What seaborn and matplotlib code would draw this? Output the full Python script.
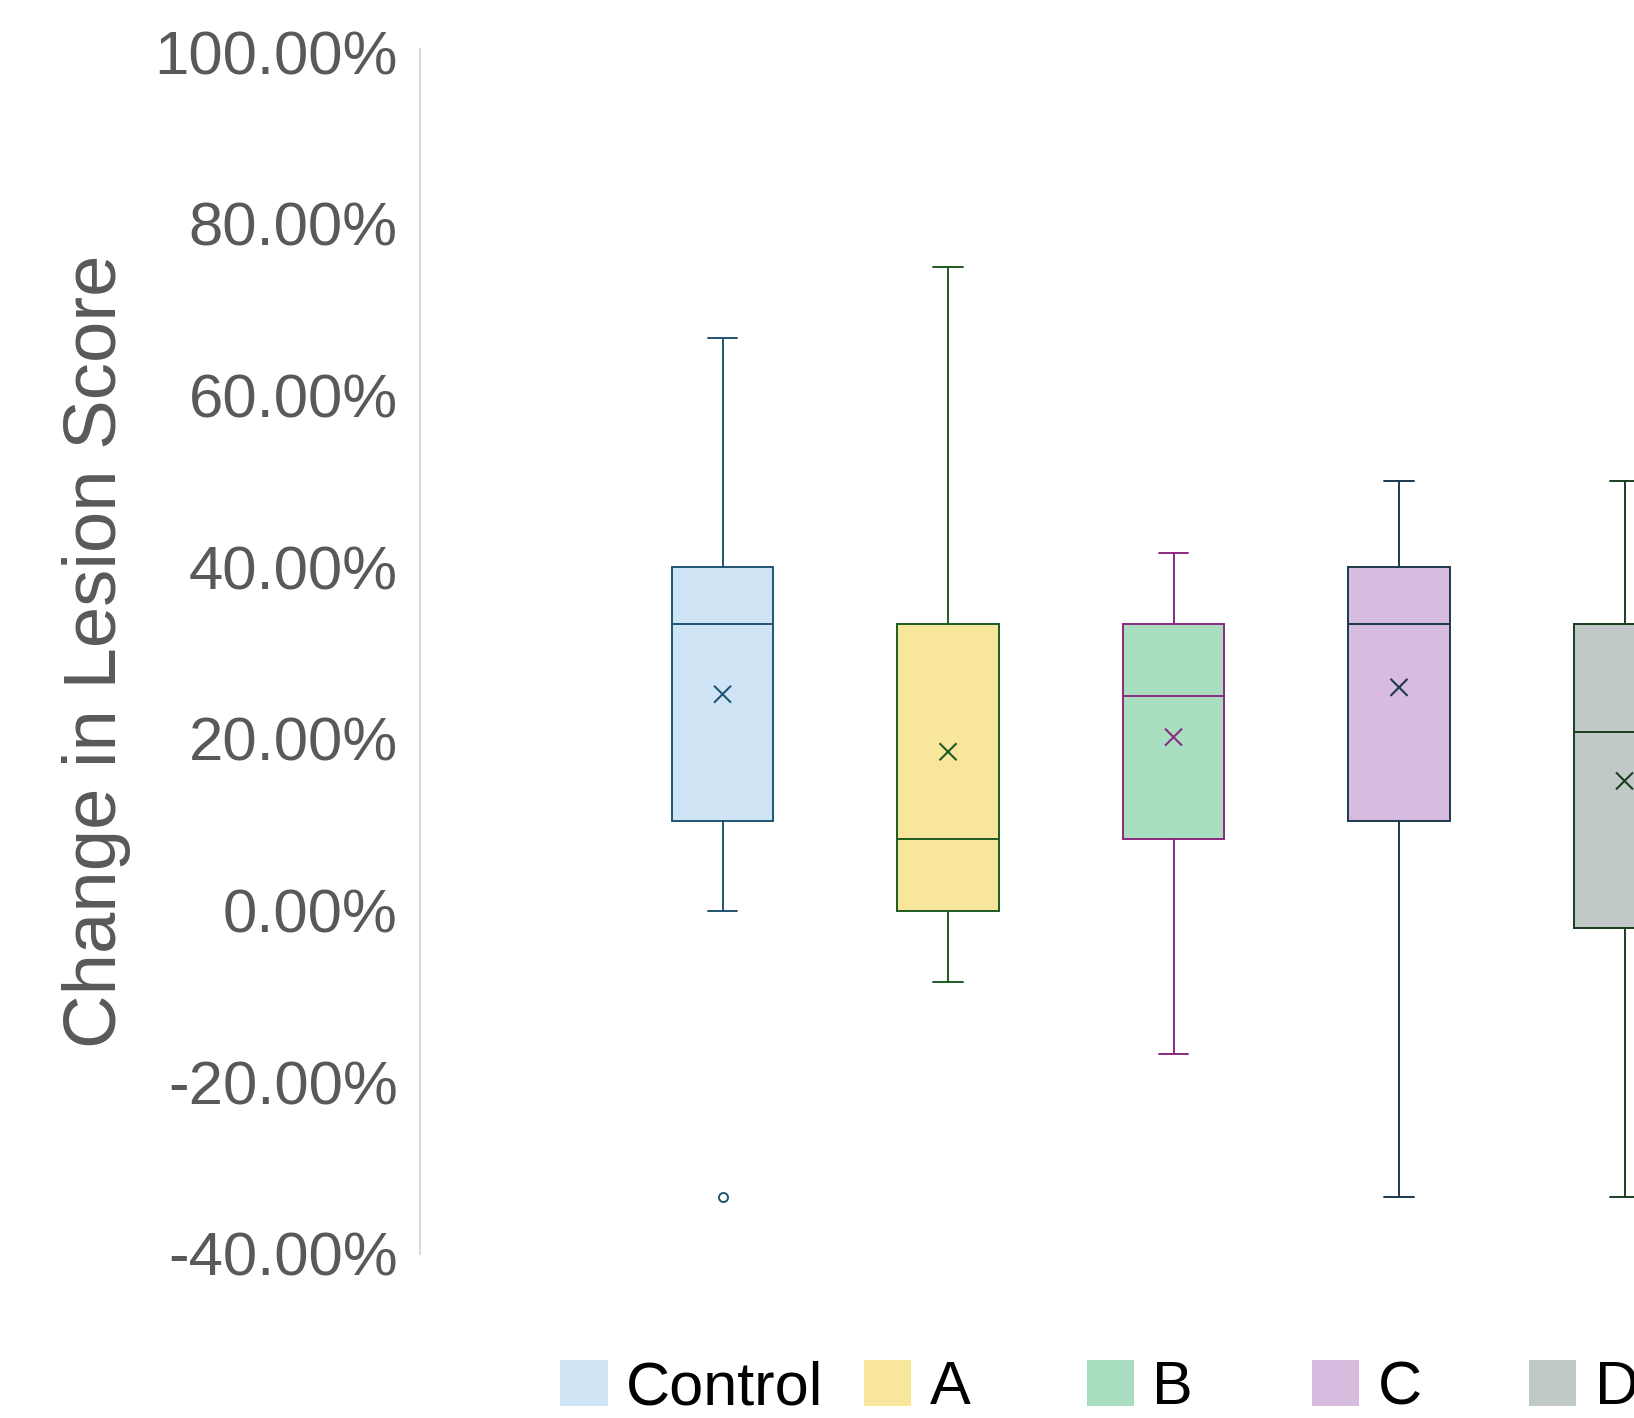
import matplotlib
matplotlib.use("Agg")
import matplotlib.pyplot as plt
import matplotlib.patches as mpatches
from matplotlib.ticker import PercentFormatter
import seaborn as sns

# values, in percent
groups = ["Control", "A", "B", "C", "D"]
whislo = [0.0, -8.33, -16.67, -33.33, -33.33]
q1 = [10.42, 0.0, 8.33, 10.42, -2.08]
med = [33.33, 8.33, 25.0, 33.33, 20.83]
q3 = [40.0, 33.33, 33.33, 40.0, 33.33]
whishi = [66.67, 75.0, 41.67, 50.0, 50.0]
means = [25.2, 18.5, 20.2, 26.0, 15.1]
outliers = [[-33.33], [], [], [], []]

fills = ["#CFE5F5", "#F8E69C", "#A9DFC0", "#D7BCE0", "#C0C8C8"]
edges = ["#1F5573", "#1E5B22", "#8B2A82", "#1B3A4B", "#1C3D1F"]

sns.set_theme(style="white")
plt.rcParams["font.family"] = ["Liberation Sans", "DejaVu Sans"]
plt.rcParams["axes.unicode_minus"] = False

fig = plt.figure(figsize=(16.34, 14.18), dpi=100)
ax = fig.add_axes([0.257, 0.1157, 0.82, 0.8500])

stats = []
for i, g in enumerate(groups):
    stats.append(dict(label=g, whislo=whislo[i], q1=q1[i], med=med[i],
                      q3=q3[i], whishi=whishi[i], fliers=[]))

pos = list(range(len(groups)))
bp = ax.bxp(stats, positions=pos, widths=0.45, capwidths=0.13,
            patch_artist=True, showfliers=False)

for i in range(len(groups)):
    bp["boxes"][i].set(facecolor=fills[i], edgecolor=edges[i], linewidth=1.4)
    bp["medians"][i].set(color=edges[i], linewidth=1.4)
    for ln in bp["whiskers"][2 * i:2 * i + 2] + bp["caps"][2 * i:2 * i + 2]:
        ln.set(color=edges[i], linewidth=1.4)

# mean markers
sns.scatterplot(x=pos, y=means, hue=groups, palette=edges, marker="x",
                s=150, linewidth=1.5, legend=False, ax=ax, zorder=5)

# outliers
for i, vals in enumerate(outliers):
    if vals:
        ax.plot([i] * len(vals), vals, "o", ms=6.5, mfc="white",
                mec=edges[i], mew=1.4, zorder=5)

ax.set_xlim(-1.342, 4.6)
ax.set_ylim(-40, 100.4)
ax.set_yticks(range(-40, 101, 20))
ax.yaxis.set_major_formatter(PercentFormatter(decimals=2))
ax.tick_params(axis="y", labelsize=44.5, labelcolor="#595959", length=0, pad=16)
ax.set_xticks([])

for s in ["top", "right", "bottom"]:
    ax.spines[s].set_visible(False)
ax.spines["left"].set_color("#D9D9D9")
ax.spines["left"].set_linewidth(1.5)

ax.set_ylabel("Change in Lesion Score", fontsize=53.6, color="#595959", labelpad=17)

# legend entries, one per group
leg_x = [0.343, 0.529, 0.665, 0.803, 0.936]
for i, g in enumerate(groups):
    h = mpatches.Patch(facecolor=fills[i], edgecolor="none")
    fig.legend(handles=[h], labels=[g], loc="center left",
               bbox_to_anchor=(leg_x[i], 0.0205), frameon=False,
               fontsize=44, labelcolor="black", handlelength=0.77,
               handleheight=0.77, handletextpad=0.3, borderaxespad=0,
               borderpad=0)

fig.savefig("out.png", dpi=100)
